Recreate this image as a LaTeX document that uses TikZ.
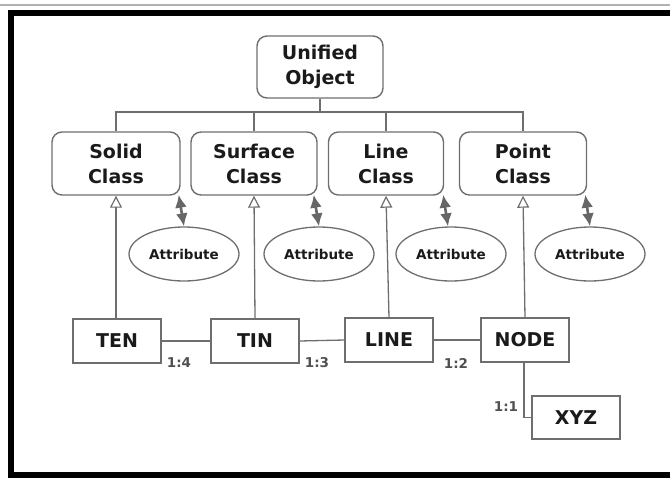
\documentclass[tikz,border=0pt]{standalone}
\usepackage{fontspec}
\setmainfont{DejaVu Sans}
\usetikzlibrary{arrows.meta,shapes.geometric}
\definecolor{linec}{HTML}{6E6E6E}
\definecolor{txtc}{HTML}{1A1A1A}
\definecolor{dblc}{HTML}{666666}
\definecolor{lblc}{HTML}{505050}
\tikzset{
  classbox/.style={draw=linec, line width=1.4pt, rounded corners=10pt, align=center, inner sep=0pt,
    font=\fontsize{19}{25}\selectfont\bfseries, text=txtc},
  attr/.style={ellipse, draw=linec, line width=1.3pt, inner sep=0pt, minimum width=110pt, minimum height=54pt,
    font=\fontsize{13.5}{16}\selectfont\bfseries, text=txtc},
  databox/.style={draw=linec, line width=1.4pt, inner sep=0pt, minimum width=88pt, minimum height=44pt,
    font=\fontsize{19}{22}\selectfont\bfseries, text=txtc},
  conn/.style={draw=linec, line width=1.3pt},
  inherit/.style={conn, -{Triangle[open, length=12pt, width=12pt, line width=1.2pt]}},
  dbl/.style={draw=dblc, line width=2.6pt, {Latex[length=13pt, width=12pt]}-{Latex[length=13pt, width=12pt]}},
  ratio/.style={font=\fontsize{13.5}{16}\selectfont\bfseries, text=lblc, inner sep=0pt}
}
\begin{document}
\begin{tikzpicture}[x=1pt, y=-1pt]
\useasboundingbox (0,0) rectangle (670,480);
% frame
\draw[gray!60, line width=2pt] (0,5) -- (670,5);
\draw[black, line width=6pt] (10.5,12.5) rectangle (690,475);

% class nodes
\node[classbox, minimum width=126pt, minimum height=62pt] (uo) at (320,67) {Unified\\Object};
\node[classbox, minimum width=128pt, minimum height=63pt] (solid) at (116,163.5) {Solid\\Class};
\node[classbox, minimum width=126pt, minimum height=63pt] (surf) at (254,163.5) {Surface\\Class};
\node[classbox, minimum width=115pt, minimum height=63pt] (linec) at (386,163.5) {Line\\Class};
\node[classbox, minimum width=127pt, minimum height=63pt] (pointc) at (523,163.5) {Point\\Class};

% bus
\coordinate (bus) at (320,112);
\draw[conn] (uo.south) -- (bus);
\draw[conn] (solid.north) -- (solid.north |- bus) -- (pointc.north |- bus) -- (pointc.north);
\draw[conn] (surf.north) -- (surf.north |- bus);
\draw[conn] (linec.north) -- (linec.north |- bus);

% attributes
\node[attr] (a1) at (184,254) {Attribute};
\node[attr] (a2) at (319,254) {Attribute};
\node[attr] (a3) at (451,254) {Attribute};
\node[attr] (a4) at (590,254) {Attribute};

\draw[dbl] ([xshift=-2pt, yshift=1pt]solid.south east) -- (a1.north);
\draw[dbl] ([xshift=-4pt, yshift=1pt]surf.south east) -- (a2.north);
\draw[dbl] ([xshift=-1pt, yshift=1pt]linec.south east) -- ([xshift=-3pt]a3.north);
\draw[dbl] ([xshift=-2pt, yshift=1pt]pointc.south east) -- (a4.north);

% data boxes
\node[databox] (ten) at (117,341) {TEN};
\node[databox] (tin) at (255,341) {TIN};
\node[databox] (lineb) at (389,340) {LINE};
\node[databox] (nodeb) at (525,340) {NODE};
\node[databox, minimum height=43pt] (xyz) at (576,417.5) {XYZ};

% inheritance
\draw[inherit] (ten.north) -- (ten.north -| solid.south) -- (solid.south);
\draw[inherit] (tin.north) -- (surf.south);
\draw[inherit] (lineb.north) -- (linec.south);
\draw[inherit] (nodeb.north) -- (pointc.south);

% associations
\draw[conn] (ten.east) -- (tin.west);
\draw[conn] (tin.east) -- (lineb.west);
\draw[conn] (lineb.east) -- (nodeb.west);
\draw[conn] ([xshift=-1pt]nodeb.south) |- (xyz.west);

% ratios
\node[ratio] (r1) at (179,363) {1:4};
\node[ratio] (r2) at (317,363) {1:3};
\node[ratio] (r3) at (456,363) {1:2};
\node[ratio] (r4) at (506,407) {1:1};
\end{tikzpicture}
\end{document}
